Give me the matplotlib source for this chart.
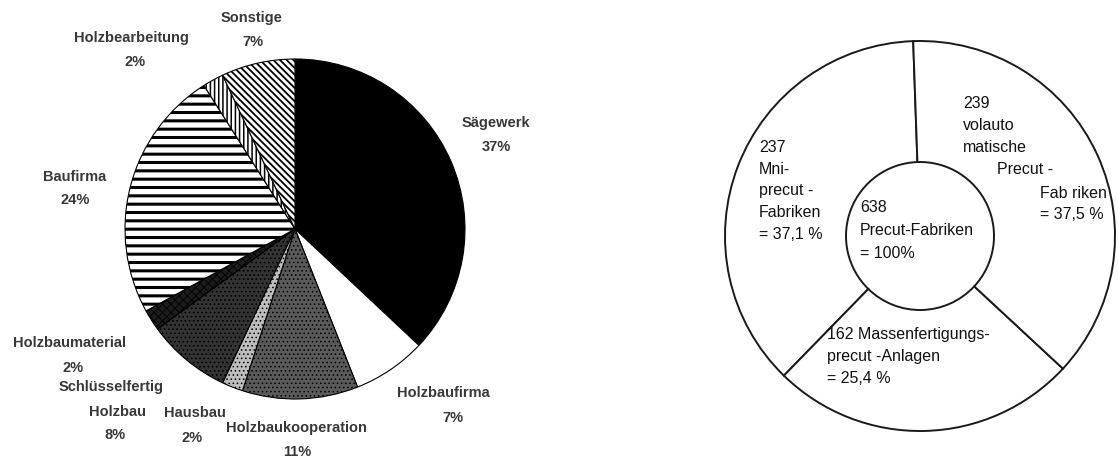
import matplotlib.pyplot as plt

W, H = 1118, 460

# left pie: Abnehmer nach Branche (%)
branchen = ["Sägewerk", "Holzbaufirma", "Holzbaukooperation", "Hausbau",
            "Schlüsselfertig\nHolzbau", "Holzbaumaterial", "Baufirma",
            "Holzbearbeitung", "Sonstige"]
anteile = [37, 7, 11, 2, 8, 2, 24, 2, 7]

# right donut: Precut-Fabriken nach Typ (Anzahl)
fabrik_anzahl = [237, 162, 239]   # Mini, Massenfertigung, vollautomatisch
fabrik_gesamt = 638

# slice look (face colour, hatch, hatch linewidth)
stile = [
    ("#000000", None, 1.0),
    ("#ffffff", None, 1.0),
    ("#5a5a5a", "....", 0.6),
    ("#bdbdbd", "....", 0.6),
    ("#333333", "....", 0.7),
    ("#1c1c1c", "xxxx", 0.6),
    ("#ffffff", "--", 2.2),
    ("#ffffff", "||||", 1.1),
    ("#ffffff", "\\\\\\\\\\", 1.3),
]

# label layout in pixel coordinates (x, y) for name lines and percent
label_pos = {
    "Sägewerk": [(496, 123)],
    "Holzbaufirma": [(443, 393)],
    "Holzbaukooperation": [(296, 428)],
    "Hausbau": [(195, 413)],
    "Schlüsselfertig\nHolzbau": [(111, 387), (118, 412)],
    "Holzbaumaterial": [(69, 343)],
    "Baufirma": [(75, 177)],
    "Holzbearbeitung": [(131, 38)],
    "Sonstige": [(252, 18)],
}
pct_pos = [(496, 147), (453, 418), (297, 452), (192, 438), (115, 435),
           (73, 368), (75, 200), (135, 62), (253, 42)]

plt.rcParams["font.family"] = ["Liberation Sans", "DejaVu Sans"]

fig = plt.figure(figsize=(W / 100, H / 100), dpi=100)
ax = fig.add_axes([0, 0, 1, 1])


def py(y):
    return H - y


# ---- left pie
wedges, _ = ax.pie(anteile, startangle=90, counterclock=False,
                   radius=170, center=(295, py(230)),
                   wedgeprops=dict(edgecolor="black", linewidth=0.8))
for w, (fc, hatch, hlw) in zip(wedges, stile):
    w.set_facecolor(fc)
    if hatch:
        w.set_hatch(hatch)
        if hasattr(w, "set_hatch_linewidth"):
            w.set_hatch_linewidth(hlw)

lab_kw = dict(ha="center", va="center", fontsize=10.5, fontweight="bold", color="#383838")
for name, val, pp in zip(branchen, anteile, pct_pos):
    for line, (x, y) in zip(name.split("\n"), label_pos[name]):
        ax.text(x, py(y), line, **lab_kw)
    ax.text(pp[0], py(pp[1]), f"{val}%", **lab_kw)

# ---- right donut
ax.pie(fabrik_anzahl, startangle=92, counterclock=True,
       radius=195, center=(920, py(237)),
       colors=["white"] * 3,
       wedgeprops=dict(width=121, edgecolor="#1a1a1a", linewidth=1.4))


def pct(n):
    return f"{100 * n / fabrik_gesamt:.1f}".replace(".", ",")


txt_kw = dict(ha="left", va="center", fontsize=11.5, color="#111111")
right_lines = [
    (759, 148, f"{fabrik_anzahl[0]}"), (759, 169, "Mni-"), (759, 191, "precut -"),
    (759, 213, "Fabriken"), (759, 235, f"= {pct(fabrik_anzahl[0])} %"),
    (860, 208, f"{fabrik_gesamt}"), (860, 231, "Precut-Fabriken"), (860, 253, "= 100%"),
    (963, 103, f"{fabrik_anzahl[2]}"), (963, 125, "volauto"), (963, 148, "matische"),
    (997, 170, "Precut -"), (1040, 193, "Fab riken"),
    (1040, 215, f"= {pct(fabrik_anzahl[2])} %"),
    (827, 335, f"{fabrik_anzahl[1]} Massenfertigungs-"), (827, 357, "precut -Anlagen"),
    (827, 379, f"= {pct(fabrik_anzahl[1])} %"),
]
for x, y, s in right_lines:
    ax.text(x, py(y), s, **txt_kw)

ax.set_xlim(0, W)
ax.set_ylim(0, H)
ax.set_aspect("equal")
ax.axis("off")

fig.savefig("out.png", dpi=100, facecolor="white")
